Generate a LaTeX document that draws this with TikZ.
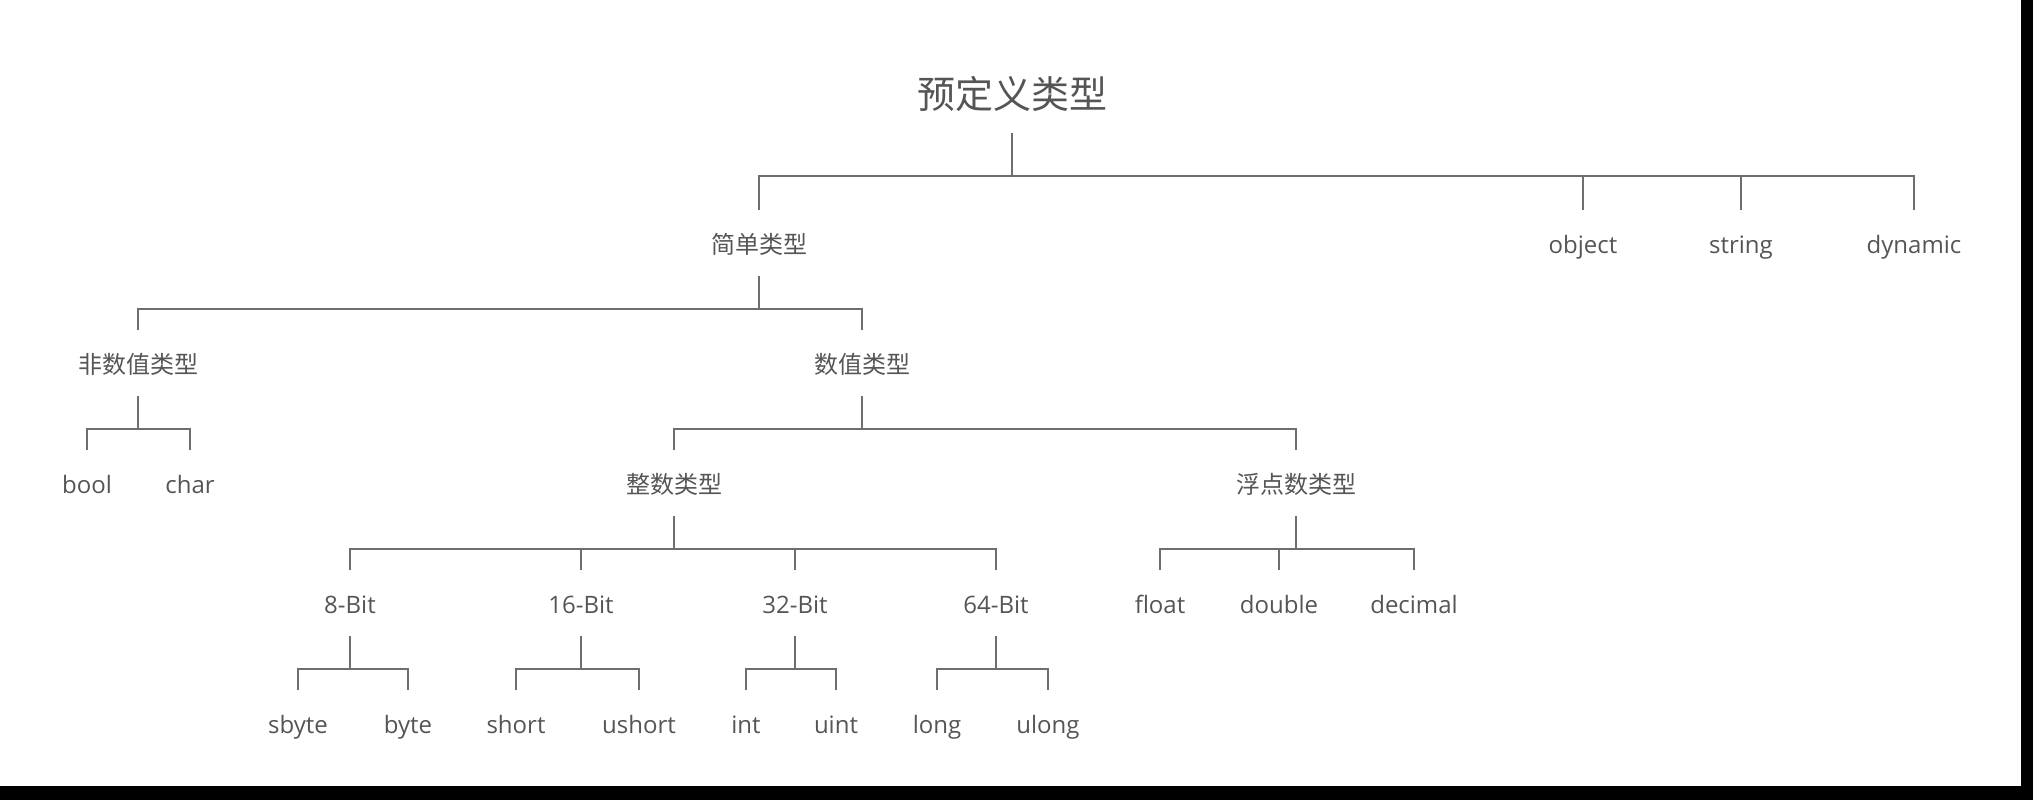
\documentclass[tikz,border=0pt]{standalone}
\usepackage{fontspec}
\setmainfont{Open Sans}
\newfontfamily\cjk{Noto Sans CJK SC}
\usepackage{tikz}
\usetikzlibrary{positioning}
\definecolor{textgray}{HTML}{555555}
\definecolor{linegray}{HTML}{6E6E6E}

\begin{document}
\begin{tikzpicture}[x=1pt, y=1pt, node distance=120pt,
    type/.style={text=textgray, font=\fontsize{24}{28}\selectfont, inner sep=0pt,
      minimum height=66pt, text height=23pt, text depth=1pt},
    cntype/.style={type, font=\cjk\fontsize{24}{28}\selectfont},
    branch/.style={draw=linegray, line width=1.8pt}]
    \useasboundingbox (0,0) rectangle (2033,800);
    \fill[black] (2021,0) rectangle (2033,800);
    \fill[black] (0,0) rectangle (2033,14);

    \node[cntype, font=\cjk\fontsize{38}{44}\selectfont, minimum height=80pt,
      text height=35pt, text depth=3pt] (root) at (1012,707) {预定义类型};
    \node[cntype, node distance=150pt, below of=root, xshift=-253pt] (simple) {简单类型};
    \node[type, node distance=150pt, below of=root, xshift=571pt] (object) {object};
    \node[type, node distance=150pt, below of=root, xshift=729pt] (string) {string};
    \node[type, node distance=150pt, below of=root, xshift=902pt] (dynamic) {dynamic};

    \node[cntype, below of=simple, xshift=-621pt] (nonnum) {非数值类型};
    \node[cntype, below of=simple, xshift=103pt] (numeric) {数值类型};

    \node[type, below of=nonnum, xshift=-51pt] (bool) {bool};
    \node[type, below of=nonnum, xshift=52pt] (char) {char};
    \node[cntype, below of=numeric, xshift=-188pt] (integer) {整数类型};
    \node[cntype, below of=numeric, xshift=434pt] (floating) {浮点数类型};

    \node[type, below of=integer, xshift=-324pt] (bit8) {8-Bit};
    \node[type, below of=integer, xshift=-93pt] (bit16) {16-Bit};
    \node[type, below of=integer, xshift=121pt] (bit32) {32-Bit};
    \node[type, below of=integer, xshift=322pt] (bit64) {64-Bit};
    \node[type, below of=floating, xshift=-136pt] (float) {float};
    \node[type, below of=floating, xshift=-17pt] (double) {double};
    \node[type, below of=floating, xshift=118pt] (decimal) {decimal};

    \node[type, below of=bit8, xshift=-52pt] (sbyte) {sbyte};
    \node[type, below of=bit8, xshift=58pt] (byte) {byte};
    \node[type, below of=bit16, xshift=-65pt] (short) {short};
    \node[type, below of=bit16, xshift=58pt] (ushort) {ushort};
    \node[type, below of=bit32, xshift=-49pt] (int) {int};
    \node[type, below of=bit32, xshift=41pt] (uint) {uint};
    \node[type, below of=bit64, xshift=-59pt] (long) {long};
    \node[type, below of=bit64, xshift=52pt] (ulong) {ulong};

    \foreach \c in {simple,object,string,dynamic}
        \draw[branch] (root.south) -- ++(0,-43) -| (\c.north);
    \foreach \p/\c in {simple/nonnum, simple/numeric, nonnum/bool, nonnum/char,
        numeric/integer, numeric/floating,
        integer/bit8, integer/bit16, integer/bit32, integer/bit64,
        floating/float, floating/double, floating/decimal,
        bit8/sbyte, bit8/byte, bit16/short, bit16/ushort,
        bit32/int, bit32/uint, bit64/long, bit64/ulong}
        \draw[branch] (\p.south) -- ++(0,-33) -| (\c.north);
\end{tikzpicture}
\end{document}
